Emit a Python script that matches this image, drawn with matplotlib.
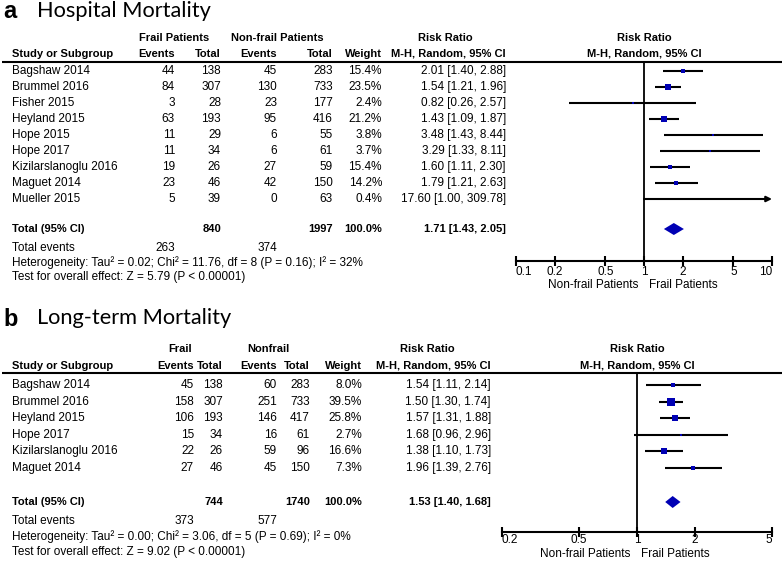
import matplotlib
matplotlib.use("Agg")
import matplotlib.pyplot as plt
import numpy as np

# ---------------- data: panel a ----------------
a_studies = ["Bagshaw 2014", "Brummel 2016", "Fisher 2015", "Heyland 2015", "Hope 2015",
             "Hope 2017", "Kizilarslanoglu 2016", "Maguet 2014", "Mueller 2015"]
a_frail_events = [44, 84, 3, 63, 11, 11, 19, 23, 5]
a_frail_total = [138, 307, 28, 193, 29, 34, 26, 46, 39]
a_non_events = [45, 130, 23, 95, 6, 6, 27, 42, 0]
a_non_total = [283, 733, 177, 416, 55, 61, 59, 150, 63]
a_weight = [15.4, 23.5, 2.4, 21.2, 3.8, 3.7, 15.4, 14.2, 0.4]
a_rr = [2.01, 1.54, 0.82, 1.43, 3.48, 3.29, 1.60, 1.79, 17.60]
a_lo = [1.40, 1.21, 0.26, 1.09, 1.43, 1.33, 1.11, 1.21, 1.00]
a_hi = [2.88, 1.96, 2.57, 1.87, 8.44, 8.11, 2.30, 2.63, 309.78]
a_total = {"frail_total": 840, "non_total": 1997, "rr": 1.71, "lo": 1.43, "hi": 2.05,
           "frail_ev": 263, "non_ev": 374}
a_het = "Heterogeneity: Tau\u00b2 = 0.02; Chi\u00b2 = 11.76, df = 8 (P = 0.16); I\u00b2 = 32%"
a_test = "Test for overall effect: Z = 5.79 (P < 0.00001)"
a_ticks = [0.1, 0.2, 0.5, 1, 2, 5, 10]
a_ticklabels = ["0.1", "0.2", "0.5", "1", "2", "5", "10"]

# ---------------- data: panel b ----------------
b_studies = ["Bagshaw 2014", "Brummel 2016", "Heyland 2015", "Hope 2017",
             "Kizilarslanoglu 2016", "Maguet 2014"]
b_frail_events = [45, 158, 106, 15, 22, 27]
b_frail_total = [138, 307, 193, 34, 26, 46]
b_non_events = [60, 251, 146, 16, 59, 45]
b_non_total = [283, 733, 417, 61, 96, 150]
b_weight = [8.0, 39.5, 25.8, 2.7, 16.6, 7.3]
b_rr = [1.54, 1.50, 1.57, 1.68, 1.38, 1.96]
b_lo = [1.11, 1.30, 1.31, 0.96, 1.10, 1.39]
b_hi = [2.14, 1.74, 1.88, 2.96, 1.73, 2.76]
b_total = {"frail_total": 744, "non_total": 1740, "rr": 1.53, "lo": 1.40, "hi": 1.68,
           "frail_ev": 373, "non_ev": 577}
b_het = "Heterogeneity: Tau\u00b2 = 0.00; Chi\u00b2 = 3.06, df = 5 (P = 0.69); I\u00b2 = 0%"
b_test = "Test for overall effect: Z = 9.02 (P < 0.00001)"
b_ticks = [0.2, 0.5, 1, 2, 5]
b_ticklabels = ["0.2", "0.5", "1", "2", "5"]

W, H = 784, 568
BLUE = "#0000B4"
FS = 8.45
FSB = 8.0
FONT = "Liberation Sans"
TITLE_FONT = "Lato"

fig = plt.figure(figsize=(W / 100, H / 100), dpi=100)
bg = fig.add_axes([0, 0, 1, 1])
bg.set_xlim(0, W)
bg.set_ylim(H, 0)
bg.axis("off")


def txt(x, y, s, ha="left", bold=False, size=None, family=FONT):
    if size is None:
        size = FSB if bold else FS
    bg.text(x, y, s, ha=ha, va="center", fontsize=size, family=family,
            fontweight="bold" if bold else "normal", color="black")


def fig_axes(x0, x1, y0, y1):
    return fig.add_axes([x0 / W, 1 - y1 / H, (x1 - x0) / W, (y1 - y0) / H])


def panel(letter, title, ty, hdr_y1, hdr_y2, line_y, row_y0, step, cols, grp1, grp2,
          rr_hdr_x, rr_right, plot_hdr_x,
          studies, fe, ft, ne, nt, wt, rr, lo, hi, tot, het, test,
          tot_y, ev_y, het_y, test_y,
          ax_x0, ax_x1, ax_y, xlim, ticks, ticklabels, lab_y, nf_right, fr_left, sq_k,
          tpad):
    # titles
    bg.text(3, ty + 1, letter, ha="left", va="center", fontsize=17, fontweight="bold",
            family=FONT)
    bg.text(37, ty, title, ha="left", va="center", fontsize=15.7, family=TITLE_FONT)
    # header
    txt(grp1[0], hdr_y1, grp1[1], ha="center", bold=True)
    txt(grp2[0], hdr_y1, grp2[1], ha="center", bold=True)
    txt(rr_hdr_x, hdr_y1, "Risk Ratio", ha="center", bold=True)
    txt(plot_hdr_x, hdr_y1, "Risk Ratio", ha="center", bold=True)
    txt(12, hdr_y2, "Study or Subgroup", bold=True)
    for (cx, lab) in zip(cols, ["Events", "Total", "Events", "Total", "Weight"]):
        txt(cx, hdr_y2, lab, ha="right", bold=True)
    txt(rr_right, hdr_y2, "M-H, Random, 95% CI", ha="right", bold=True)
    txt(plot_hdr_x, hdr_y2, "M-H, Random, 95% CI", ha="center", bold=True)
    bg.plot([2, 782], [line_y, line_y], color="black", lw=1.5, solid_capstyle="butt")

    n = len(studies)
    ys = [row_y0 + i * step for i in range(n)]
    for i, y in enumerate(ys):
        txt(12, y, studies[i])
        txt(cols[0], y, str(fe[i]), ha="right")
        txt(cols[1], y, str(ft[i]), ha="right")
        txt(cols[2], y, str(ne[i]), ha="right")
        txt(cols[3], y, str(nt[i]), ha="right")
        txt(cols[4], y, f"{wt[i]:.1f}%", ha="right")
        txt(rr_right, y, f"{rr[i]:.2f} [{lo[i]:.2f}, {hi[i]:.2f}]", ha="right")
    txt(12, tot_y, "Total (95% CI)", bold=True)
    txt(cols[1], tot_y, str(tot["frail_total"]), ha="right", bold=True)
    txt(cols[3], tot_y, str(tot["non_total"]), ha="right", bold=True)
    txt(cols[4], tot_y, "100.0%", ha="right", bold=True)
    txt(rr_right, tot_y, f"{tot['rr']:.2f} [{tot['lo']:.2f}, {tot['hi']:.2f}]",
        ha="right", bold=True)
    txt(12, ev_y, "Total events")
    txt(cols[0], ev_y, str(tot["frail_ev"]), ha="right")
    txt(cols[2], ev_y, str(tot["non_ev"]), ha="right")
    txt(12, het_y, het)
    txt(12, test_y, test)

    # forest axes
    ax = fig_axes(ax_x0, ax_x1, line_y, ax_y)
    ax.set_xscale("log")
    ax.set_xlim(*xlim)
    ax.set_ylim(ax_y, line_y)
    ax.patch.set_alpha(0)
    for s in ["top", "right", "left"]:
        ax.spines[s].set_visible(False)
    ax.spines["bottom"].set_linewidth(1.5)
    ax.set_yticks([])
    ax.set_xticks(ticks)
    ax.set_xticklabels(ticklabels, family=FONT, fontsize=FS)
    ax.minorticks_off()
    ax.tick_params(axis="x", direction="inout", length=7, width=1.5, pad=tpad)
    labs = ax.get_xticklabels()
    labs[0].set_horizontalalignment("left")
    labs[-1].set_horizontalalignment("right")
    ax.axvline(1, color="black", lw=1.3)
    for i, y in enumerate(ys):
        l, h = lo[i], hi[i]
        if h > xlim[1]:
            ax.annotate("", xy=(xlim[1], y), xytext=(l, y),
                        arrowprops=dict(arrowstyle="-|>", color="black", lw=1.5,
                                        mutation_scale=8, shrinkA=0, shrinkB=0),
                        annotation_clip=False)
        else:
            ax.plot([max(l, xlim[0]), h], [y, y], color="black", lw=1.5,
                    solid_capstyle="butt")
        if xlim[0] <= rr[i] <= xlim[1]:
            side = max(2.0, sq_k * np.sqrt(wt[i]))
            ax.plot(rr[i], y, marker="s", ms=side * 0.72, color=BLUE, mec=BLUE, mew=0)
    dh = 6
    ax.fill([tot["lo"], tot["rr"], tot["hi"], tot["rr"]],
            [tot_y, tot_y - dh, tot_y, tot_y + dh], color=BLUE, lw=0)
    txt(nf_right, lab_y, "Non-frail Patients", ha="right")
    txt(fr_left, lab_y, "Frail Patients", ha="left")


panel("a", "Hospital Mortality", 11, 38, 54, 62, 71, 16,
      [175, 221, 277, 333, 382], (174, "Frail Patients"), (277, "Non-frail Patients"),
      445, 506, 644,
      a_studies, a_frail_events, a_frail_total, a_non_events, a_non_total, a_weight,
      a_rr, a_lo, a_hi, a_total, a_het, a_test,
      229, 248, 263, 277,
      516, 772, 261, (0.1, 10), a_ticks, a_ticklabels, 285, 638, 649, 1.25, 0)

panel("b", "Long-term Mortality", 318, 349, 366, 373, 385, 16.6,
      [194, 223, 277, 310, 362], (180, "Frail"), (268, "Nonfrail"),
      427, 491, 637,
      b_studies, b_frail_events, b_frail_total, b_non_events, b_non_total, b_weight,
      b_rr, b_lo, b_hi, b_total, b_het, b_test,
      502, 521, 537, 552,
      502, 772, 532, (0.2, 5), b_ticks, b_ticklabels, 554, 630, 641, 1.35, -2)

fig.savefig("out.png", dpi=100)
